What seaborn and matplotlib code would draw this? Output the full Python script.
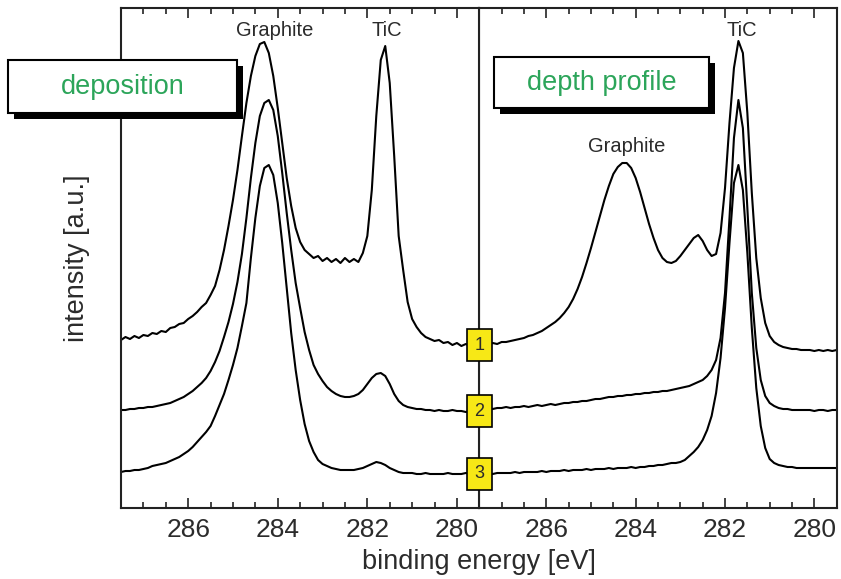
import numpy as np
import pandas as pd
import matplotlib
matplotlib.use("Agg")
import matplotlib.pyplot as plt
from matplotlib.patches import Rectangle
from matplotlib.ticker import MultipleLocator
import seaborn as sns

# binding-energy sampling (eV), 0.1 eV steps from 287.5 down to 279.5
energy = np.round(np.arange(287.5, 279.45, -0.1), 1)

# C 1s spectra recorded during deposition (1 = top, 3 = bottom)
deposition_1 = [
    168, 171, 169, 172, 170, 173, 172, 175, 174, 177,
    176, 180, 181, 184, 185, 189, 192, 196, 201, 205,
    213, 222, 238, 258, 282, 308, 338, 372, 405, 432,
    452, 464, 466, 455, 432, 400, 365, 330, 302, 280,
    266, 258, 254, 250, 252, 247, 250, 246, 249, 245,
    250, 246, 249, 246, 255, 272, 318, 392, 448, 462,
    425, 352, 272, 238, 206, 189, 181, 175, 171, 169,
    167, 168, 165, 166, 163, 165, 162, 164, 162, 164, 163]
deposition_2 = [
    98, 98, 99, 99, 100, 100, 101, 101, 102, 103,
    104, 105, 107, 109, 111, 114, 117, 121, 125, 130,
    137, 146, 157, 171, 186, 204, 226, 254, 290, 330,
    365, 392, 405, 408, 398, 372, 335, 295, 258, 225,
    200, 176, 158, 143, 134, 127, 121, 117, 114, 112,
    111, 111, 112, 114, 118, 124, 130, 134, 135, 132,
    124, 114, 107, 103, 101, 100, 99, 99, 98, 98,
    97, 98, 97, 97, 98, 97, 97, 96, 97, 97, 97]
deposition_3 = [
    36, 37, 37, 38, 38, 39, 40, 42, 43, 44,
    45, 47, 49, 51, 54, 57, 61, 66, 71, 76,
    82, 92, 103, 114, 128, 143, 160, 182, 205, 250,
    290, 322, 340, 343, 333, 305, 265, 220, 175, 138,
    108, 84, 67, 56, 48, 44, 42, 40, 39, 38,
    38, 38, 38, 39, 40, 42, 44, 46, 45, 43,
    40, 38, 36, 35, 35, 35, 34, 34, 35, 34,
    34, 34, 34, 35, 34, 34, 34, 35, 34, 34, 34]

# C 1s spectra of the sputter depth profile (1 = top, 3 = bottom)
profile_1 = [
    163, 164, 163, 165, 164, 166, 166, 167, 168, 169,
    170, 172, 173, 175, 177, 180, 183, 186, 190, 195,
    201, 209, 219, 231, 245, 260, 276, 292, 308, 322,
    334, 341, 345, 345, 340, 330, 316, 300, 284, 270,
    258, 250, 246, 245, 247, 252, 258, 264, 270, 273,
    267, 258, 252, 254, 275, 320, 385, 440, 467, 455,
    395, 315, 250, 210, 185, 172, 166, 163, 161, 160,
    159, 159, 158, 158, 158, 157, 158, 157, 158, 157, 158]
profile_2 = [
    99, 99, 100, 99, 100, 100, 101, 100, 101, 101,
    102, 101, 102, 103, 102, 103, 104, 103, 104, 105,
    105, 106, 106, 107, 107, 108, 109, 109, 110, 111,
    111, 112, 112, 113, 113, 114, 114, 115, 115, 116,
    116, 117, 117, 118, 119, 120, 121, 122, 124, 126,
    128, 132, 138, 148, 170, 215, 290, 370, 408, 380,
    300, 215, 160, 128, 112, 105, 102, 100, 99, 99,
    98, 98, 98, 98, 98, 97, 98, 98, 97, 98, 98]
profile_3 = [
    34, 34, 35, 34, 35, 35, 35, 35, 36, 35,
    36, 36, 36, 36, 37, 36, 37, 37, 37, 38,
    37, 38, 38, 38, 39, 38, 39, 39, 39, 40,
    39, 40, 40, 40, 41, 40, 41, 41, 42, 42,
    43, 43, 44, 45, 45, 46, 48, 52, 56, 61,
    68, 78, 92, 115, 150, 200, 265, 325, 343, 318,
    255, 180, 120, 82, 60, 49, 45, 43, 42, 41,
    41, 40, 40, 40, 40, 40, 40, 40, 40, 40, 40]

spectrum_ids = ["1", "2", "3"]
panel_titles = ["deposition", "depth profile"]
x_ticks = [286, 284, 282, 280]

# peak labels: (text, energy, intensity) for each panel
left_peaks = [("Graphite", 284.06, 478), ("TiC", 281.56, 478)]
right_peaks = [("Graphite", 284.2, 361), ("TiC", 281.63, 478)]


def long_form(curves):
    frames = []
    for sid, values in zip(spectrum_ids, curves):
        frames.append(pd.DataFrame({"energy": energy, "intensity": values, "spectrum": sid}))
    return pd.concat(frames, ignore_index=True)


left_df = long_form([deposition_1, deposition_2, deposition_3])
right_df = long_form([profile_1, profile_2, profile_3])

sns.set_theme(style="ticks")
plt.rcParams["font.family"] = ["Liberation Sans", "DejaVu Sans"]

W, H = 841, 579
fig = plt.figure(figsize=(W / 100, H / 100), dpi=100)


def fx(px):
    return px / W


def fy(py):
    return 1 - py / H


ax_top, ax_bot = 8, 508
ax_l = fig.add_axes([fx(121), fy(ax_bot), fx(479.3 - 121), (ax_bot - ax_top) / H])
ax_r = fig.add_axes([fx(479.3), fy(ax_bot), fx(836.7 - 479.3), (ax_bot - ax_top) / H])
# left panel on top so the divider markers are not hidden by the right panel
ax_l.set_zorder(3)
ax_r.set_zorder(1)

text_color = "#2b2b2b"
spine_color = "#222222"

for ax, df, peaks in [(ax_l, left_df, left_peaks), (ax_r, right_df, right_peaks)]:
    sns.lineplot(data=df, x="energy", y="intensity", units="spectrum", estimator=None,
                 color="black", linewidth=1.5, ax=ax, legend=False, sort=False)
    ax.set_xlim(287.5, 279.5)
    ax.set_ylim(0, 500)
    ax.set_xlabel("")
    ax.set_ylabel("")
    ax.set_yticks([])
    ax.xaxis.set_major_locator(MultipleLocator(2))
    ax.xaxis.set_minor_locator(MultipleLocator(0.5))
    ax.set_xticks(x_ticks)
    ax.set_xticklabels([str(t) for t in x_ticks])
    ax.tick_params(axis="x", which="both", direction="in", top=True, bottom=True,
                   color=spine_color, width=1.2, labelsize=19, labelcolor=text_color, pad=7)
    ax.tick_params(axis="x", which="major", length=7)
    ax.tick_params(axis="x", which="minor", length=4)
    for s in ax.spines.values():
        s.set_visible(True)
        s.set_color(spine_color)
        s.set_linewidth(1.5)
    for label, e, h in peaks:
        ax.text(e, h, label, ha="center", va="center", fontsize=14.5, color=text_color)

# numbered markers on the panel divider, at the end level of each deposition spectrum
for sid, curve in zip(spectrum_ids, [deposition_1, deposition_2, deposition_3]):
    ax_l.text(279.5, curve[-1], sid, ha="center", va="center", fontsize=13,
              color=text_color, zorder=10, clip_on=False,
              bbox=dict(boxstyle="square,pad=0.42", fc="#f7e816", ec="black", lw=1.2))

# framed panel titles with drop shadow
title_boxes = [(8, 60, 237, 113), (494, 57, 709, 108)]
for (x0, y0, x1, y1), title in zip(title_boxes, panel_titles):
    shadow = Rectangle((fx(x0 + 6), fy(y1 + 6)), fx(x1 - x0), (y1 - y0) / H,
                       transform=fig.transFigure, fc="black", ec="black", lw=0, zorder=5)
    box = Rectangle((fx(x0), fy(y1)), fx(x1 - x0), (y1 - y0) / H,
                    transform=fig.transFigure, fc="white", ec="black", lw=1.5, zorder=6)
    fig.add_artist(shadow)
    fig.add_artist(box)
    fig.text(fx((x0 + x1) / 2), fy((y0 + y1) / 2 + 1), title, ha="center", va="center",
             fontsize=19.5, color="#2ca55a", zorder=7)

fig.text(fx(77), fy(258), "intensity [a.u.]", rotation=90, ha="center", va="center",
         fontsize=19.5, color=text_color)
fig.text(fx(479), fy(562), "binding energy [eV]", ha="center", va="center",
         fontsize=19.5, color=text_color)

fig.savefig("out.png", dpi=100)
